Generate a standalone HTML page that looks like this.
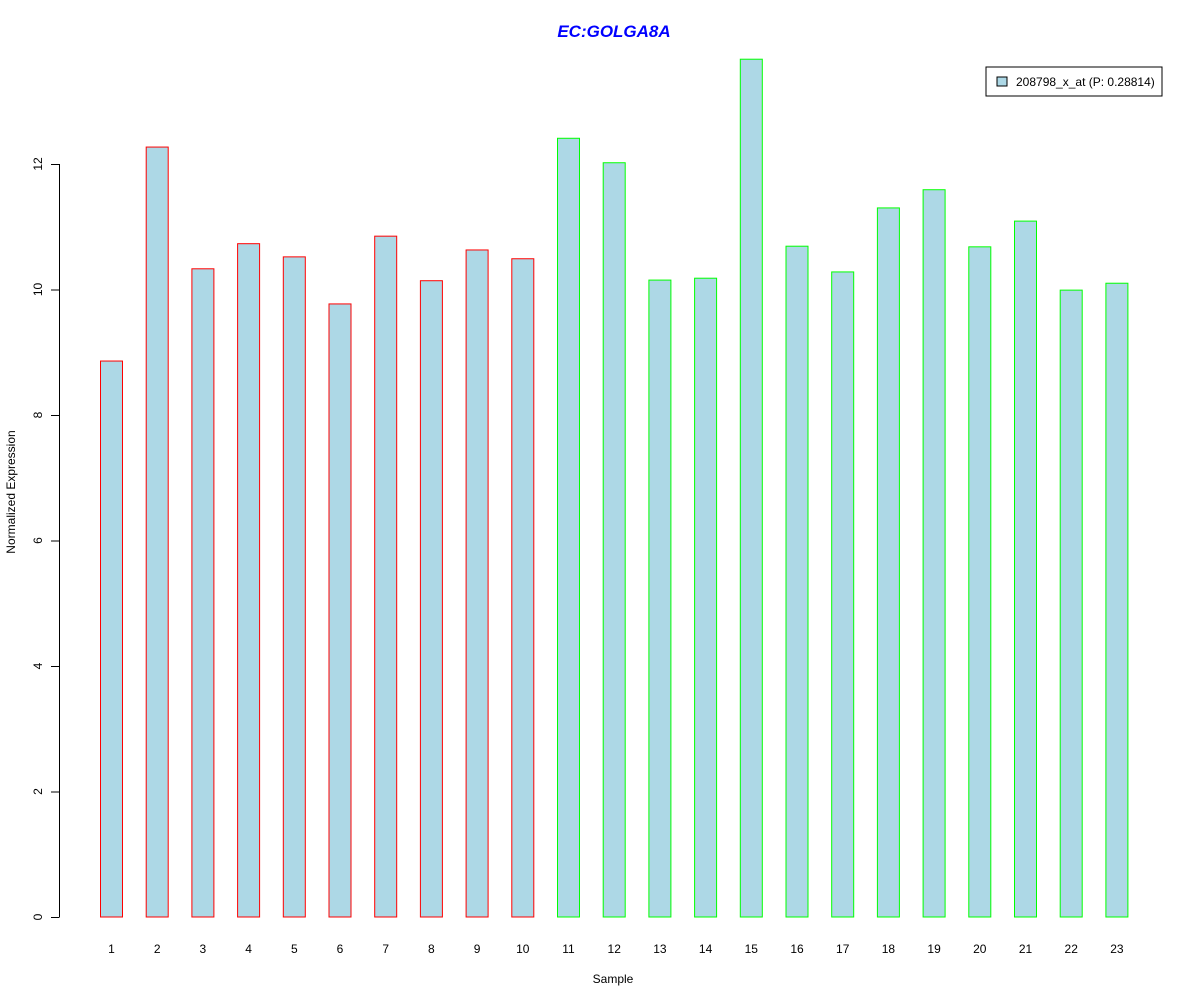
<!DOCTYPE html>
<html><head><meta charset="utf-8"><style>
body{margin:0;background:#fff;}
svg{display:block;font-family:"Liberation Sans",Arial,sans-serif;}
</style></head><body>
<svg id="chart" width="1200" height="1000">
<text x="614" y="37" text-anchor="middle" font-size="17" font-weight="bold" font-style="italic" fill="#0000ff">EC:GOLGA8A</text>
<text x="613" y="983" text-anchor="middle" font-size="12">Sample</text>
<text transform="translate(15,492) rotate(-90)" text-anchor="middle" font-size="12">Normalized Expression</text>
<g id="yaxis"></g>
<g id="bars"></g>
<g id="xlabels"></g>
<g>
<rect x="986" y="67" width="176" height="29" fill="#fff" stroke="#000" stroke-width="1"/>
<rect x="997" y="77" width="10" height="9" fill="#add8e6" stroke="#000" stroke-width="1"/>
<text x="1016" y="86" font-size="12">208798_x_at (P: 0.28814)</text>
</g>
</svg>
<script>
const categories = ["1","2","3","4","5","6","7","8","9","10","11","12","13","14","15","16","17","18","19","20","21","22","23"];
const values = [8.86,12.27,10.33,10.73,10.52,9.77,10.85,10.14,10.63,10.49,12.41,12.02,10.15,10.18,13.67,10.69,10.28,11.30,11.59,10.68,11.09,9.99,10.10];
const groups = ["a","a","a","a","a","a","a","a","a","a","b","b","b","b","b","b","b","b","b","b","b","b","b"];
const yTicks = [0,2,4,6,8,10,12];
const NS="http://www.w3.org/2000/svg";
function y(v){return 917-v*62.75;}
function x(i){return 111.5+i*45.7;}
const bw=22;
const ya=document.getElementById('yaxis');
function mk(tag,attrs,parent){const e=document.createElementNS(NS,tag);for(const k in attrs)e.setAttribute(k,attrs[k]);parent.appendChild(e);return e;}
const axl=mk('line',{x1:59.5,x2:59.5,y1:y(0),y2:y(yTicks[yTicks.length-1]),stroke:'#000'},ya);


yTicks.forEach(t=>{
  const tk=mk('line',{x1:51,x2:59.5,y1:y(t)+0.5,y2:y(t)+0.5,stroke:'#000'},ya);
  
  
  const tx=mk('text',{transform:`translate(42,${y(t)}) rotate(-90)`,'text-anchor':'middle','font-size':12},ya);
  tx.textContent=t;
  
  
});
const bg=document.getElementById('bars'), xl=document.getElementById('xlabels');
values.forEach((v,i)=>{
  const r=mk('rect',{x:x(i)-bw/2,y:y(v),width:bw,height:y(0)-y(v),fill:'#add8e6',stroke:groups[i]==='a'?'#ff0000':'#00ff00','stroke-width':1},bg);
  
  
  const t=mk('text',{x:x(i),y:953,'text-anchor':'middle','font-size':12},xl);
  t.textContent=categories[i];
  
  
});
</script>
</body></html>
